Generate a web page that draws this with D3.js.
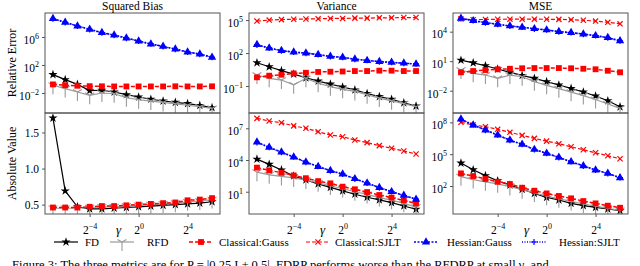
<!DOCTYPE html>
<html>
<head>
<meta charset="utf-8">
<script src="https://cdn.jsdelivr.net/npm/d3@7"></script>
<style>
  body { margin: 0; background: #fff; }
  svg text { font-family: "Liberation Serif", "DejaVu Serif", serif; }
</style>
</head>
<body>
<svg id="chart" width="640" height="266"></svg>
<script>
// gamma values (x axis, log2)
var gamma = [2**-7, 2**-6, 2**-5, 2**-4, 2**-3, 2**-2, 2**-1, 1, 2, 4, 8, 16, 32, 64];
var xTicks = [2**-4, 1, 16];
var xTickExp = ["\u22124", "0", "4"];

var methods = ["FD", "RFD", "Classical:Gauss", "Classical:SJLT", "Hessian:Gauss", "Hessian:SJLT"];
var titles = ["Squared Bias", "Variance", "MSE"];
var rowLabels = ["Relative Error", "Absolute Value"];

// relative error: squared bias
var biasFD = [4.3, 0.81, 0.17, 0.022, 0.025, 0.014, 5.9e-3, 2.7e-3, 1.3e-3, 7.2e-4, 4.7e-4, 3.1e-4, 1.7e-4, 8.1e-5];
var biasRFD = [0.13, 0.043, 0.014, 4.7e-3, 0.010, 7.9e-3, 2.2e-3, 1.1e-3, 7.1e-4, 4.5e-4, 2.8e-4, 1.8e-4, 1.1e-4, 6.3e-5];
var biasCG = [0.17, 0.13, 0.11, 0.095, 0.091, 0.087, 0.087, 0.087, 0.087, 0.087, 0.091, 0.087, 0.087, 0.091];
var biasCS = null;
var biasHG = [4.3e8, 1.3e8, 3.7e7, 1.3e7, 4.3e6, 1.9e6, 7.2e5, 2.7e5, 1.0e5, 4.7e4, 1.9e4, 7.2e3, 3.7e3, 1.3e3];
var biasHS = [4.0e8, 1.2e8, 3.9e7, 1.2e7, 4.0e6, 1.8e6, 6.8e5, 2.6e5, 1.05e5, 4.4e4, 1.8e4, 7.5e3, 3.5e3, 1.25e3];
var biasTicks = [1e6, 1e2, 1e-2];
var biasExp = ["6", "2", "\u22122"];
var biasLim = [1.4e-5, 2.7e9];

// relative error: variance
var varFD = [13, 5.6, 2.5, 1.2, 0.56, 0.28, 0.15, 0.081, 0.044, 0.021, 0.011, 6.2e-3, 3.0e-3, 1.5e-3];
var varRFD = [1.0, 0.50, 0.35, 0.13, 0.50, 0.18, 0.087, 0.050, 0.032, 0.016, 7.9e-3, 4.5e-3, 2.5e-3, 1.3e-3];
var varCG = [0.62, 0.87, 1.07, 1.4, 1.6, 1.9, 2.0, 2.1, 2.3, 2.3, 2.5, 2.5, 2.3, 2.3];
var varCS = [8.1e4, 1.0e5, 1.1e5, 1.2e5, 1.26e5, 1.3e5, 1.4e5, 1.4e5, 1.5e5, 1.5e5, 1.6e5, 1.6e5, 1.7e5, 1.7e5];
var varHG = [580, 280, 170, 120, 100, 71, 50, 40, 28, 21, 17, 14, 12, 10];
var varHS = [550, 290, 160, 125, 95, 74, 48, 41, 27, 22, 16, 14.5, 11.5, 10.5];
var varTicks = [1e5, 1e2, 1e-1];
var varExp = ["5", "2", "\u22121"];
var varLim = [3.5e-4, 4.4e5];

// relative error: mse
var mseFD = [12.6, 6.8, 3.4, 1.6, 0.74, 0.36, 0.18, 0.083, 0.038, 0.017, 7.4e-3, 2.9e-3, 9.5e-4, 2.3e-4];
var mseRFD = [1.26, 0.58, 0.39, 0.18, 0.39, 0.26, 0.083, 0.035, 0.016, 7.1e-3, 3.2e-3, 1.26e-3, 4.5e-4, 1.6e-4];
var mseCG = [0.74, 1.0, 1.26, 1.5, 1.7, 1.9, 2.0, 2.0, 2.0, 1.9, 1.7, 1.5, 1.07, 0.74];
var mseCS = [1.95e5, 1.66e5, 1.74e5, 1.82e5, 1.86e5, 1.86e5, 1.86e5, 1.82e5, 1.78e5, 1.66e5, 1.45e5, 1.2e5, 8.9e4, 6.3e4];
var mseHG = [2.3e5, 1.3e5, 8.3e4, 5.6e4, 3.8e4, 2.8e4, 2.0e4, 1.5e4, 1.0e4, 7.9e3, 5.8e3, 3.9e3, 2.5e3, 1.15e3];
var mseHS = [2.2e5, 1.35e5, 8.0e4, 5.8e4, 3.7e4, 2.9e4, 1.9e4, 1.55e4, 9.8e3, 8.1e3, 5.6e3, 4.0e3, 2.4e3, 1.2e3];
var mseTicks = [1e4, 1e1, 1e-2];
var mseExp = ["4", "1", "\u22122"];
var mseLim = [5.4e-5, 7.9e5];

// absolute value: squared bias (linear)
var absBiasFD = [1.70, 0.69, 0.47, 0.44, 0.44, 0.45, 0.46, 0.47, 0.48, 0.49, 0.50, 0.51, 0.52, 0.54];
var absBiasRFD = [0.45, 0.45, 0.45, 0.46, 0.47, 0.47, 0.48, 0.49, 0.50, 0.51, 0.52, 0.54, 0.55, 0.57];
var absBiasCG = [0.46, 0.46, 0.46, 0.47, 0.48, 0.48, 0.49, 0.50, 0.51, 0.52, 0.53, 0.56, 0.57, 0.59];
var absBiasTicks = [0.5, 1.0, 1.5];
var absBiasLim = [0.37, 1.77];

// absolute value: variance
var absVarFD = [1.2e4, 3.9e3, 1.15e3, 310, 130, 54, 26, 12, 5.8, 3.0, 1.7, 0.93, 0.45, 0.22];
var absVarRFD = [710, 400, 280, 200, 126, 71, 35, 20, 10, 5.6, 2.8, 1.6, 0.79, 0.35];
var absVarCG = [1.9e3, 1.05e3, 630, 350, 190, 100, 62, 30, 17, 9.3, 4.9, 2.8, 1.5, 0.79];
var absVarCS = [8.7e7, 4.9e7, 3.4e7, 1.7e7, 1.0e7, 4.8e6, 2.3e6, 1.6e6, 7.9e5, 4.4e5, 2.3e5, 1.3e5, 7.1e4, 3.7e4];
var absVarHG = [5.0e5, 1.55e5, 5.6e4, 1.9e4, 6.3e3, 2.4e3, 1.0e3, 460, 170, 65, 25, 10, 4.6, 1.9];
var absVarHS = [4.6e5, 1.6e5, 5.3e4, 2.0e4, 6.0e3, 2.5e3, 960, 480, 160, 68, 24, 10.5, 4.4, 2.0];
var absVarTicks = [1e7, 1e4, 1e1];
var absVarExp = ["7", "4", "1"];
var absVarLim = [7.8e-2, 2.8e8];

// absolute value: mse
var absMseFD = [1.45e4, 3.4e3, 950, 310, 120, 49, 20, 8.5, 4.8, 2.3, 1.4, 0.95, 0.68, 0.47];
var absMseRFD = [760, 400, 250, 160, 89, 45, 22, 11, 6.3, 3.5, 2.0, 1.26, 0.79, 0.50];
var absMseCG = [1.55e3, 870, 460, 250, 155, 69, 36, 20, 11.5, 6.9, 3.8, 2.3, 1.4, 0.89];
var absMseCS = [1.0e8, 5.6e7, 3.9e7, 2.2e7, 1.15e7, 5.9e6, 3.1e6, 1.7e6, 9.5e5, 5.0e5, 2.6e5, 1.35e5, 7.1e4, 3.7e4];
var absMseHG = [2.0e8, 5.6e7, 1.9e7, 6.3e6, 2.1e6, 8.3e5, 2.8e5, 1.2e5, 5.0e4, 1.9e4, 8.1e3, 3.2e3, 1.55e3, 590];
var absMseHS = [1.9e8, 6.0e7, 1.8e7, 6.6e6, 2.0e6, 8.7e5, 2.7e5, 1.25e5, 4.8e4, 2.0e4, 7.8e3, 3.3e3, 1.5e3, 620];
var absMseTicks = [1e8, 1e5, 1e2];
var absMseExp = ["8", "5", "2"];
var absMseLim = [2.3e-1, 7.6e8];

var panels = [
    { row: 0, col: 0, log: true, series: [biasFD, biasRFD, biasCG, biasCS, biasHG, biasHS], ticks: biasTicks, exps: biasExp, lim: biasLim },
    { row: 0, col: 1, log: true, series: [varFD, varRFD, varCG, varCS, varHG, varHS], ticks: varTicks, exps: varExp, lim: varLim },
    { row: 0, col: 2, log: true, series: [mseFD, mseRFD, mseCG, mseCS, mseHG, mseHS], ticks: mseTicks, exps: mseExp, lim: mseLim },
    { row: 1, col: 0, log: false, series: [absBiasFD, absBiasRFD, absBiasCG, null, null, null], ticks: absBiasTicks, exps: null, lim: absBiasLim },
    { row: 1, col: 1, log: true, series: [absVarFD, absVarRFD, absVarCG, absVarCS, absVarHG, absVarHS], ticks: absVarTicks, exps: absVarExp, lim: absVarLim },
    { row: 1, col: 2, log: true, series: [absMseFD, absMseRFD, absMseCG, absMseCS, absMseHG, absMseHS], ticks: absMseTicks, exps: absMseExp, lim: absMseLim }
];

// look of each method
var styles = [
    { color: "#000", dash: null, width: 1.2, marker: "star" },
    { color: "#9a9a9a", dash: null, width: 1.2, marker: "tri" },
    { color: "#f00", dash: "4,2", width: 1.5, marker: "square" },
    { color: "#f00", dash: "4,2", width: 1.2, marker: "x" },
    { color: "#00f", dash: "2,1.5", width: 1.6, marker: "triangle" },
    { color: "#00f", dash: "1,1.5", width: 1.4, marker: "plus" }
];

var serif = "'Liberation Serif', 'DejaVu Serif', serif";
var colX = [45, 249, 453], panelW = 175;
var rowY = [13, 113], panelH = [100, 101];

var svg = d3.select("#chart").attr("font-family", serif);

function drawMarker(g, kind, color) {
    if (kind == "star") {
        g.append("path").attr("d", d3.symbol(d3.symbolStar, 26)()).attr("fill", color);
    } else if (kind == "square") {
        g.append("path").attr("d", d3.symbol(d3.symbolSquare, 34)()).attr("fill", color);
    } else if (kind == "triangle") {
        g.append("path").attr("d", d3.symbol(d3.symbolTriangle, 30)()).attr("fill", color);
    } else if (kind == "x") {
        g.append("path").attr("d", "M-2.6,-2.6L2.6,2.6M-2.6,2.6L2.6,-2.6")
            .attr("stroke", color).attr("stroke-width", 1.2).attr("fill", "none");
    } else if (kind == "plus") {
        g.append("path").attr("d", "M-3,0L3,0M0,-3L0,3")
            .attr("stroke", color).attr("stroke-width", 1.2).attr("fill", "none");
    } else if (kind == "tri") {
        g.append("path").attr("d", "M0,0L0,9M0,0L-4.5,-2.6M0,0L4.5,-2.6")
            .attr("stroke", color).attr("stroke-width", 1.1).attr("fill", "none");
    }
}

function supLabel(sel, base, exp) {
    sel.text(null);
    sel.append("tspan").text(base);
    sel.append("tspan").attr("dy", -5).attr("font-size", 8).text(exp);
}

panels.forEach(function(p, i) {
    var x0 = colX[p.col], y0 = rowY[p.row], h = panelH[p.row];

    var x = d3.scaleLog().base(2)
        .domain([2 ** -7.65, 2 ** 6.65])
        .range([x0, x0 + panelW]);

    var y = (p.log ? d3.scaleLog() : d3.scaleLinear())
        .domain(p.lim)
        .range([y0 + h, y0]);

    svg.append("clipPath").attr("id", "clip" + i)
        .append("rect").attr("x", x0).attr("y", y0).attr("width", panelW).attr("height", h);

    var plot = svg.append("g").attr("clip-path", "url(#clip" + i + ")");

    p.series.forEach(function(vals, k) {
        if (!vals) return;
        var st = styles[k];
        var pts = vals.map(function(v, j) { return [gamma[j], v]; });

        plot.append("path")
            .datum(pts)
            .attr("fill", "none")
            .attr("stroke", st.color)
            .attr("stroke-width", st.width)
            .attr("stroke-dasharray", st.dash)
            .attr("d", d3.line()
                .x(function(d) { return x(d[0]) })
                .y(function(d) { return y(d[1]) })
            );

        plot.selectAll(null)
            .data(pts)
            .enter()
            .append("g")
            .attr("transform", function(d) { return "translate(" + x(d[0]) + "," + y(d[1]) + ")"; })
            .each(function() { drawMarker(d3.select(this), st.marker, st.color); });
    });

    // frame
    svg.append("rect")
        .attr("x", x0).attr("y", y0)
        .attr("width", panelW).attr("height", h)
        .attr("fill", "none").attr("stroke", "#555").attr("stroke-width", 1);

    // y axis
    var ya = svg.append("g")
        .attr("transform", "translate(" + x0 + ",0)")
        .call(d3.axisLeft(y).tickValues(p.ticks).tickSize(3).tickPadding(3)
            .tickFormat(function(d) { return d3.format(".1f")(d); }));
    ya.attr("font-family", serif);
    ya.select(".domain").remove();
    ya.selectAll(".tick line").attr("stroke", "#555");
    ya.selectAll(".tick text")
        .attr("font-size", 11.5)
        .attr("fill", "#000");
    if (p.exps) {
        ya.selectAll(".tick text").each(function(d, j) {
            supLabel(d3.select(this).attr("dy", "0.55em"), "10", p.exps[j]);
        });
    }

    // x axis on the bottom row
    if (p.row == 1) {
        var xa = svg.append("g")
            .attr("transform", "translate(0," + (y0 + h) + ")")
            .call(d3.axisBottom(x).tickValues(xTicks).tickSize(3).tickPadding(5)
                .tickFormat(function() { return ""; }));
        xa.attr("font-family", serif);
        xa.select(".domain").remove();
        xa.selectAll(".tick line").attr("stroke", "#555");
        xa.selectAll(".tick text")
            .attr("font-size", 11.5)
            .attr("fill", "#000")
            .attr("dy", "1.05em")
            .each(function(d, j) { supLabel(d3.select(this), "2", xTickExp[j]); });

        svg.append("text")
            .attr("x", x0 + panelW / 2 - 14)
            .attr("y", 234)
            .attr("text-anchor", "middle")
            .attr("font-size", 13)
            .attr("font-style", "italic")
            .text("\u03b3");
    }

    if (p.row == 0) {
        svg.append("text")
            .attr("x", x0 + panelW / 2)
            .attr("y", 10)
            .attr("text-anchor", "middle")
            .attr("font-size", 11.5)
            .text(titles[p.col]);
    }

    if (p.col == 0) {
        svg.append("text")
            .attr("transform", "translate(16," + (y0 + h / 2) + ") rotate(-90)")
            .attr("text-anchor", "middle")
            .attr("font-size", 12)
            .text(rowLabels[p.row]);
    }
});

// legend
var legendX = [54, 110, 189, 306, 414, 522];
var legendTextX = [85, 147, 219, 335, 447, 559];
var legend = svg.append("g");
methods.forEach(function(m, k) {
    var st = styles[k];
    var g = legend.append("g").attr("transform", "translate(" + legendX[k] + ",242)");
    g.append("line")
        .attr("x1", 0).attr("x2", 24)
        .attr("stroke", st.color)
        .attr("stroke-width", st.width)
        .attr("stroke-dasharray", st.dash);
    var mg = g.append("g").attr("transform", "translate(12,0)");
    drawMarker(mg, st.marker, st.color);
    legend.append("text")
        .attr("x", legendTextX[k])
        .attr("y", 246)
        .attr("font-size", 11)
        .text(m);
});

// caption, cut by the bottom edge
svg.append("text")
    .attr("x", 12)
    .attr("y", 269)
    .attr("font-size", 12.5)
    .text("Figure 3:  The three metrics are for P = |0.25 I \u00b1 0.5|. FDRP performs worse than the RFDRP at small \u03b3, and");
</script>
</body>
</html>
